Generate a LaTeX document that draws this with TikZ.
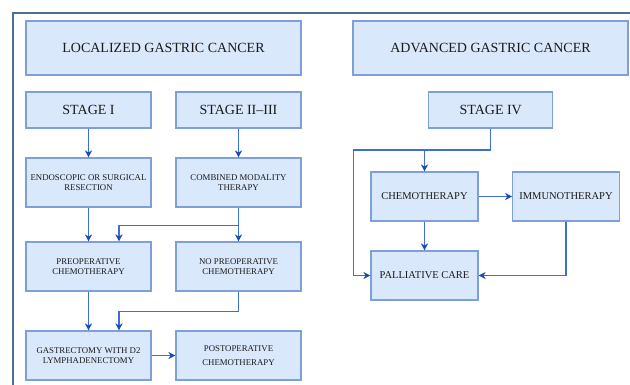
\documentclass[tikz,border=0pt]{standalone}
\usepackage{fontspec}
\setmainfont{Liberation Serif}
\usetikzlibrary{arrows.meta}
\definecolor{boxfill}{HTML}{DAE8FC}
\definecolor{boxline}{HTML}{7EA0D8}
\definecolor{conn}{HTML}{3C6FD2}
\definecolor{tipc}{HTML}{1B4DB4}
\definecolor{framec}{HTML}{4D7090}
\definecolor{txt}{HTML}{1A1A1A}
\tikzset{
  box/.style={draw=boxline, fill=boxfill, line width=1.1pt, rectangle, align=center, text=txt, inner sep=2pt},
  titlebox/.style={box, minimum width=275pt, minimum height=54pt, font=\fontsize{14}{17}\selectfont},
  stagebox/.style={box, minimum width=125pt, minimum height=36pt, font=\fontsize{14}{17}\selectfont},
  lbox/.style={box, minimum width=125pt, minimum height=49pt, font=\fontsize{8.8}{10.4}\selectfont},
  rbox/.style={box, minimum width=107pt, minimum height=49pt, font=\fontsize{10.5}{12.5}\selectfont},
  conline/.style={draw=conn, line width=1.2pt},
  arr/.style={conline, -{Stealth[length=7pt,width=7pt,inset=2pt,color=tipc]}},
  framel/.style={draw=framec, line width=2pt}
}
\begin{document}
\begin{tikzpicture}[x=1pt,y=-1pt]
\useasboundingbox (0,0) rectangle (630,384);
\draw[framel] (12.5,385) -- (12.5,12.5) -- (631,12.5);

\node[titlebox] (loc) at (163.5,48) {LOCALIZED GASTRIC CANCER};
\node[titlebox] (adv) at (490.5,48) {ADVANCED GASTRIC CANCER};

\node[stagebox] (s1) at (88.5,110) {STAGE I};
\node[stagebox] (s23) at (238.5,110) {STAGE II–III};
\node[stagebox, minimum width=124pt] (s4) at (490.7,110) {STAGE IV};

\node[lbox] (endo) at (88.5,182.5) {ENDOSCOPIC OR SURGICAL\\RESECTION};
\node[lbox] (comb) at (238.5,182.5) {COMBINED MODALITY\\THERAPY};
\node[lbox] (pre) at (88.5,266.5) {PREOPERATIVE\\CHEMOTHERAPY};
\node[lbox] (nopre) at (238.5,266.5) {NO PREOPERATIVE\\CHEMOTHERAPY};
\node[lbox] (gas) at (88.5,355.5) {GASTRECTOMY WITH D2\\LYMPHADENECTOMY};
\node[lbox, font=\fontsize{8.8}{13.7}\selectfont] (post) at (238.5,355.5) {POSTOPERATIVE\\CHEMOTHERAPY};

\node[rbox] (chemo) at (424.5,196.5) {CHEMOTHERAPY};
\node[rbox, minimum width=106.5pt] (immuno) at (566,196.5) {IMMUNOTHERAPY};
\node[rbox] (pall) at (424.5,275.5) {PALLIATIVE CARE};

\draw[arr] (s1) -- (endo);
\draw[arr] (s23) -- (comb);
\draw[arr] (endo) -- (pre);
\draw[arr] (comb) -- (nopre);
\draw[arr] (comb.south) -- ++(0,18) -| ([xshift=30.5pt]pre.north);
\draw[arr] (pre) -- (gas);
\draw[arr] (nopre.south) -- ++(0,20) -| ([xshift=30.5pt]gas.north);
\draw[arr] (gas) -- (post);

\coordinate (lb) at (353.5,150);
\draw[arr] (s4.south) |- (lb) |- (pall.west);
\draw[arr] (chemo.north |- lb) -- (chemo.north);
\draw[arr] (chemo) -- (immuno);
\draw[arr] (chemo) -- (pall);
\draw[arr] (immuno.south) |- (pall.east);
\end{tikzpicture}
\end{document}
